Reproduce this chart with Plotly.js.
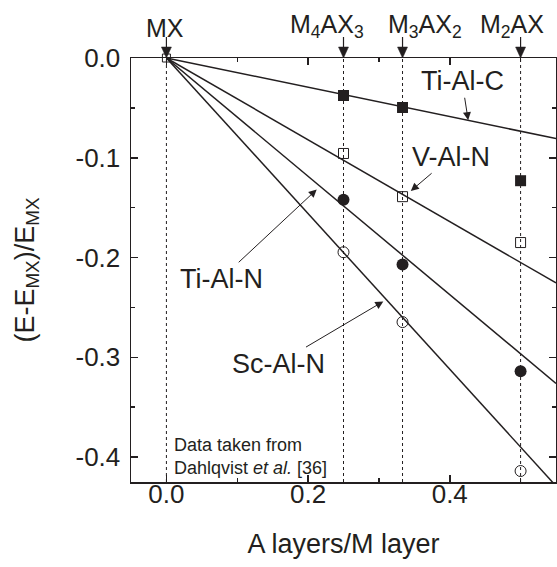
<!DOCTYPE html>
<html>
<head>
<meta charset="utf-8">
<script src="https://cdn.plot.ly/plotly-3.0.1.min.js"></script>
<style>html,body{margin:0;padding:0;background:#fff;}#chart{width:557px;height:567px;}</style>
</head>
<body>
<div id="chart"></div>
<script>
// ---- data ----
const xPhase = [0.25, 1/3, 0.5];                 // M4AX3, M3AX2, M2AX
const phaseLinesX = [0, 0.25, 1/3, 0.5];         // MX, M4AX3, M3AX2, M2AX
const phaseLabels = ['MX', 'M<sub>4</sub>AX<sub>3</sub>', 'M<sub>3</sub>AX<sub>2</sub>', 'M<sub>2</sub>AX'];
const phaseLabelX = [-0.002, 0.227, 0.365, 0.488];

const systems = ['Ti-Al-C', 'V-Al-N', 'Ti-Al-N', 'Sc-Al-N'];
const yTiAlC = [-0.0376, -0.0496, -0.123];
const yVAlN  = [-0.0957, -0.139, -0.185];
const yTiAlN = [-0.142, -0.207, -0.314];
const yScAlN = [-0.1947, -0.2647, -0.414];
const originX = [0];
const originY = [0];
// slopes of the linear fits through the origin
const fitSlopes = [-0.1468, -0.41, -0.593, -0.780];
const fitX = [0, 0.55];

const C = '#231f20';
const F = 'Liberation Sans, Arial, Helvetica, sans-serif';

function fitLine(slope) {
  return {x: fitX, y: fitX.map(v => v * slope), mode: 'lines', type: 'scatter',
          line: {color: C, width: 1.5}, hoverinfo: 'skip', showlegend: false};
}

const traces = [
  fitLine(fitSlopes[0]), fitLine(fitSlopes[1]), fitLine(fitSlopes[2]), fitLine(fitSlopes[3]),
  {x: xPhase, y: yTiAlC, mode: 'markers', type: 'scatter', name: systems[0],
   marker: {symbol: 'square', size: 11, color: C}},
  {x: xPhase, y: yVAlN, mode: 'markers', type: 'scatter', name: systems[1],
   marker: {symbol: 'square-open', size: 10, color: C, line: {width: 1}}},
  {x: xPhase, y: yTiAlN, mode: 'markers', type: 'scatter', name: systems[2],
   marker: {symbol: 'circle', size: 12, color: C}},
  {x: xPhase, y: yScAlN, mode: 'markers', type: 'scatter', name: systems[3],
   marker: {symbol: 'circle-open', size: 11, color: C, line: {width: 1}}},
  {x: originX, y: originY, mode: 'markers', type: 'scatter', name: 'MX',
   marker: {symbol: 'square-open', size: 8, color: C, line: {width: 1}}, cliponaxis: false}
];

const shapes = [];
phaseLinesX.forEach(v => {
  // dotted guide line through the plot
  shapes.push({type: 'line', xref: 'x', yref: 'paper', x0: v, x1: v, y0: 0, y1: 1,
    line: {color: C, width: 1, dash: 'dot'}, layer: 'below'});
  // downward arrow above the plot (stem + head)
  shapes.push({type: 'line', xref: 'x', yref: 'paper', ysizemode: 'pixel', yanchor: 1,
    x0: v, x1: v, y0: 9, y1: 21, line: {color: C, width: 1.2}});
  shapes.push({type: 'path', xref: 'x', yref: 'paper', xsizemode: 'pixel', ysizemode: 'pixel',
    xanchor: v, yanchor: 1, path: 'M-5,11 L5,11 L0,0 Z', fillcolor: C, line: {color: C, width: 0.5}});
});

const annotations = [];
phaseLinesX.forEach((v, i) => {
  annotations.push({x: phaseLabelX[i], y: 1, xref: 'x', yref: 'paper', yanchor: 'bottom', yshift: 14,
    text: phaseLabels[i], showarrow: false, font: {family: F, size: 25, color: C}});
});

// system labels with pointer arrows: label centre -> arrow head on the fit line
const labelPos = [[0.4174, -0.0233], [0.4018, -0.099], [0.0771, -0.2213], [0.1576, -0.3063]];
const headPos  = [[0.426, -0.0623], [0.345, -0.1333], [0.2122, -0.1318], [0.3062, -0.244]];
systems.forEach((s, i) => {
  annotations.push({x: headPos[i][0], y: headPos[i][1], ax: labelPos[i][0], ay: labelPos[i][1],
    xref: 'x', yref: 'y', axref: 'x', ayref: 'y', text: s,
    showarrow: true, arrowhead: 2, arrowsize: 1.6, arrowwidth: 1, arrowcolor: C, standoff: 0, startstandoff: 0,
    font: {family: F, size: 27, color: C}});
});

annotations.push({x: 0.0075, y: -0.3755, xref: 'x', yref: 'y', xanchor: 'left', yanchor: 'top', align: 'left',
  text: 'Data taken from<br>Dahlqvist <i>et al.</i> [36]', showarrow: false,
  font: {family: F, size: 18, color: C}});

const axisCommon = {
  showline: true, linecolor: C, linewidth: 1.5, mirror: 'ticks', ticks: 'inside',
  ticklen: 7, tickwidth: 1.5, tickcolor: C, showgrid: false, zeroline: false,
  tickfont: {family: F, size: 26, color: C}
};

const layout = {
  width: 557, height: 567,
  margin: {l: 131, r: 1, t: 58, b: 85, pad: 0},
  paper_bgcolor: '#fff', plot_bgcolor: '#fff',
  showlegend: false,
  xaxis: Object.assign({}, axisCommon, {
    range: [-0.05, 0.55], tickvals: [0, 0.2, 0.4], ticktext: ['0.0', '0.2', '0.4'],
    minor: {tickvals: [0.1, 0.3, 0.5], ticks: 'inside', ticklen: 4, tickwidth: 1.5, tickcolor: C},
    ticklabelstandoff: -12,
    title: {text: 'A layers/M layer', font: {family: F, size: 27, color: C}, standoff: 26}
  }),
  yaxis: Object.assign({}, axisCommon, {
    range: [-0.425, 0], tickvals: [0, -0.1, -0.2, -0.3, -0.4], ticktext: ['0.0', '-0.1', '-0.2', '-0.3', '-0.4'],
    minor: {tickvals: [-0.05, -0.15, -0.25, -0.35], ticks: 'inside', ticklen: 4, tickwidth: 1.5, tickcolor: C},
    ticklabelstandoff: 4,
    title: {text: '(E-E<sub>MX</sub>)/E<sub>MX</sub>', font: {family: F, size: 27, color: C}, standoff: 33}
  }),
  shapes: shapes,
  annotations: annotations
};

Plotly.newPlot('chart', traces, layout, {displayModeBar: false, staticPlot: true});
</script>
</body>
</html>
